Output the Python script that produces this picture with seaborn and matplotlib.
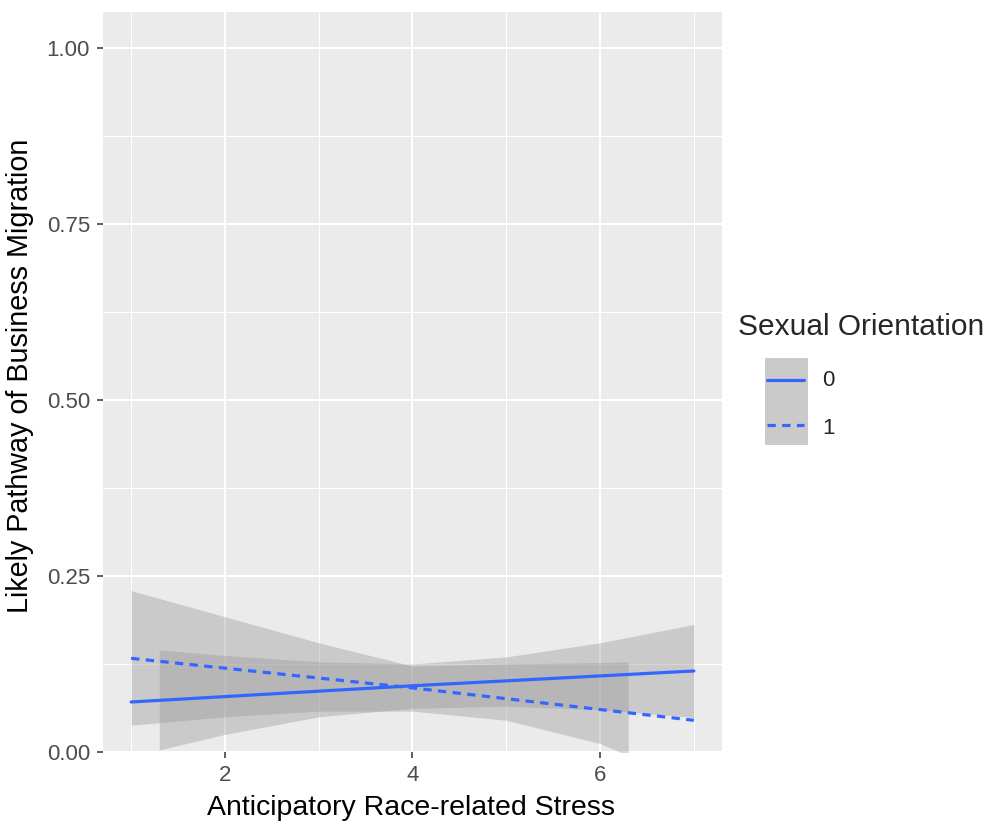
import matplotlib
matplotlib.use("Agg")
import matplotlib.pyplot as plt
import numpy as np
import pandas as pd
import seaborn as sns
from matplotlib.lines import Line2D
from matplotlib.patches import Rectangle

# Fitted probability lines by sexual orientation
stress_points = [1, 4, 7]
prob_orient0 = [0.071, 0.094, 0.115]
prob_orient1 = [0.133, 0.091, 0.045]

# Confidence bands
band0_x = [1.3, 2, 3, 4, 5, 6, 7]
band0_lo = [0.003, 0.025, 0.050, 0.062, 0.065, 0.060, 0.049]
band0_hi = [0.145, 0.137, 0.128, 0.125, 0.135, 0.155, 0.181]
band1_x = [1, 2, 3, 4, 5, 6, 6.3]
band1_lo = [0.038, 0.050, 0.058, 0.058, 0.045, 0.012, -0.005]
band1_hi = [0.229, 0.192, 0.155, 0.122, 0.125, 0.127, 0.128]

orient_levels = ["0", "1"]
x_ticks = [2, 4, 6]
y_ticks = [0.00, 0.25, 0.50, 0.75, 1.00]

BLUE = "#3366FF"
PANEL = "#EBEBEB"

sns.set_theme(style="darkgrid")
plt.rcParams["font.family"] = ["Liberation Sans", "DejaVu Sans"]

fig = plt.figure(figsize=(9.87, 8.25), dpi=100)
ax = fig.add_axes([103 / 987, 1 - 752 / 825, (722 - 103) / 987, (752 - 12.3) / 825])
ax.set_facecolor(PANEL)

# ribbons
ax.fill_between(band1_x, band1_lo, band1_hi, color="#999999", alpha=0.4, lw=0, zorder=2)
ax.fill_between(band0_x, band0_lo, band0_hi, color="#999999", alpha=0.4, lw=0, zorder=2)

df = pd.concat([
    pd.DataFrame({"stress": stress_points, "prob": prob_orient0, "orientation": "0"}),
    pd.DataFrame({"stress": stress_points, "prob": prob_orient1, "orientation": "1"}),
])
sns.lineplot(data=df, x="stress", y="prob", hue="orientation", style="orientation",
             palette={"0": BLUE, "1": BLUE}, dashes={"0": "", "1": (2.6, 2.0)},
             linewidth=2.3, legend=False, ax=ax, zorder=3)

ax.set_xlim(0.7, 7.3)
ax.set_ylim(0.0, 1.05)
ax.set_xticks(x_ticks)
ax.set_xticklabels([str(t) for t in x_ticks])
ax.set_xticks([1, 3, 5, 7], minor=True)
ax.set_yticks(y_ticks)
ax.set_yticklabels([f"{t:.2f}" for t in y_ticks])
ax.set_yticks([0.125, 0.375, 0.625, 0.875], minor=True)
ax.grid(which="major", color="white", lw=1.5, zorder=1)
ax.grid(which="minor", color="white", lw=0.75, zorder=1)
ax.set_axisbelow(True)
for s in ax.spines.values():
    s.set_visible(False)
ax.tick_params(which="major", length=4.3, width=1.1, color="#333333",
               labelcolor="#4D4D4D", labelsize=16, pad=5,
               bottom=True, left=True)
ax.tick_params(which="minor", length=0)

ax.set_xlabel("Anticipatory Race-related Stress", fontsize=20.5, color="black")
ax.set_ylabel("Likely Pathway of Business Migration", fontsize=20.7, color="black")
ax.xaxis.set_label_coords(0.4976, -0.0757)
ax.yaxis.set_label_coords(-0.134, 0.508)
ax.xaxis.label.set_va("center")
ax.yaxis.label.set_va("center")

# legend
fig.text(738 / 987, 1 - 327 / 825, "Sexual Orientation", fontsize=21.5, va="center", ha="left")
fig.add_artist(Rectangle((765 / 987, 1 - 445 / 825), 43 / 987, 87 / 825,
                         transform=fig.transFigure, facecolor="#CACACA", lw=0))
fig.add_artist(Line2D([767 / 987, 804 / 987], [1 - 380 / 825] * 2,
                      transform=fig.transFigure, color=BLUE, lw=2.3))
fig.add_artist(Line2D([767 / 987, 804 / 987], [1 - 425 / 825] * 2,
                      transform=fig.transFigure, color=BLUE, lw=2.3, dashes=(2.6, 2.0)))
fig.text(822 / 987, 1 - 381 / 825, "0", fontsize=16, va="center", ha="left")
fig.text(822 / 987, 1 - 428 / 825, "1", fontsize=16, va="center", ha="left")

fig.savefig("out.png", dpi=100, facecolor="white")
